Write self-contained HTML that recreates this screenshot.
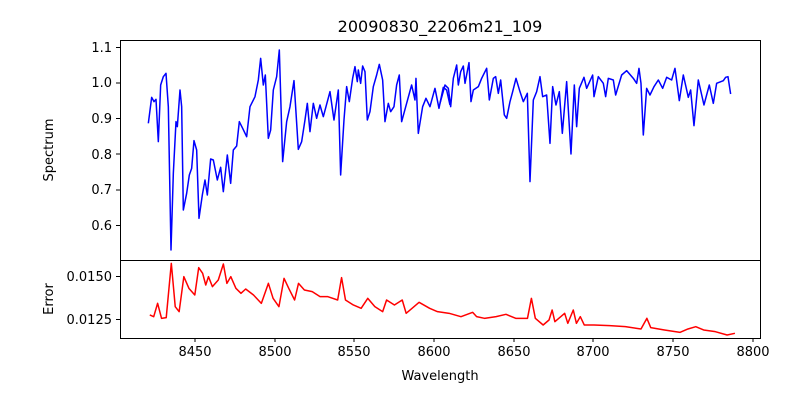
<!DOCTYPE html>
<html><head><style>body{margin:0;background:#fff}svg{display:block}text{font-family:"DejaVu Sans","Liberation Sans",sans-serif;fill:#000}</style></head><body>
<svg width="800" height="400" viewBox="0 0 800 400" xmlns="http://www.w3.org/2000/svg">
<rect width="800" height="400" fill="#fff"/>
<text x="440" y="32" font-size="16" text-anchor="middle">20090830_2206m21_109</text>
<g fill="none" stroke="#0000ff" stroke-width="1.5" stroke-linejoin="round">
<polyline vector-effect="non-scaling-stroke" transform="translate(140,40) scale(0.3333)" points="25,250 35,172 42,185 48,178 55,305 62,135 70,110 78,100 85,200 93,630 100,400 108,245 112,260 120,150 125,200 130,510 140,460 148,405 155,385 162,302 170,330 177,535 187,465 195,420 202,465 212,357 220,360 232,420 242,382 250,455 262,345 272,430 280,330 290,318 298,245 308,265 320,290 330,200 345,170 355,120 362,55 370,135 376,105 385,295 392,270 400,150 410,110 418,30 428,365 440,245 450,200 462,122 475,328 485,305 495,240 502,190 510,275 520,190 530,235 540,195 550,230 570,155 582,240 595,150 602,405 612,240 620,140 628,185 638,115 645,80 652,125 655,90 662,130 668,78 675,95 682,240 690,215 700,140 710,105 718,73 728,120 735,245 745,190 752,215 762,200 770,135 778,105 785,245 800,190 815,135 825,180 828,115 835,280 848,200 858,175 870,200 885,145 897,205 910,142 920,150 930,195"/>
<polyline vector-effect="non-scaling-stroke" transform="translate(440,40) scale(0.3333)" points="0,190 15,135 25,145 32,200 40,115 50,75 55,135 62,95 70,78 75,130 87,68 93,185 100,150 115,140 125,115 140,85 148,180 160,115 167,110 175,160 182,120 193,225 200,235 210,185 218,155 228,115 240,155 250,185 262,160 270,425 280,180 290,155 300,110 308,170 320,165 330,310 338,140 348,195 358,155 367,280 380,125 393,342 403,135 410,260 418,145 432,112 440,145 458,105 462,170 475,110 490,130 497,170 505,115 520,120 527,165 545,105 560,92 580,115 590,130 597,85 603,130 610,285 620,145 630,165 642,140 655,120 668,145 680,112 695,120 705,85 718,182 730,105 745,172 752,150 762,257 775,120 792,195 808,135 820,190 830,130 850,122 857,112 864,110 872,162"/>
</g>
<polyline fill="none" stroke="#ff0000" stroke-width="1.5" stroke-linejoin="round" vector-effect="non-scaling-stroke" transform="translate(140,255) scale(0.3914,0.3333)" points="25,180 35,185 45,145 55,190 67,188 80,25 90,155 100,170 112,65 125,100 140,120 150,38 160,55 168,90 175,65 185,95 200,75 213,27 222,85 232,65 245,100 258,115 270,102 290,120 310,145 328,85 340,130 355,155 368,70 380,100 395,135 405,85 420,105 440,110 460,125 480,125 505,135 515,68 525,135 545,150 565,160 582,130 600,155 620,170 630,135 650,150 670,135 680,175 700,155 713,142 740,160 760,170 790,175 820,185 850,172 860,185 880,190 910,185 935,178 960,190 990,190 1000,130 1010,190 1030,210 1045,195 1053,165 1060,200 1085,175 1093,205 1107,165 1115,205 1125,185 1135,210 1160,210 1200,212 1240,215 1280,222 1295,190 1305,218 1340,225 1380,232 1400,222 1420,215 1440,225 1470,230 1500,240 1520,235"/>
<g fill="none" stroke="#000" stroke-width="1">
<rect x="120.5" y="40.5" width="640" height="220"/>
<rect x="120.5" y="260.5" width="640" height="78"/>
<path d="M195,338v4M275,338v4M354,338v4M434,338v4M514,338v4M593,338v4M673,338v4M753,338v4 M120,47.5h-4M120,83h-4M120,118.5h-4M120,154h-4M120,190h-4M120,225.5h-4 M120,276.5h-4M120,319.5h-4"/>
</g>
<g font-size="13" text-anchor="middle">
<text x="195" y="356">8450</text><text x="275" y="356">8500</text><text x="354" y="356">8550</text><text x="434" y="356">8600</text><text x="514" y="356">8650</text><text x="593" y="356">8700</text><text x="673" y="356">8750</text><text x="753" y="356">8800</text>
</g>
<g font-size="13" text-anchor="end">
<text x="112" y="52">1.1</text><text x="112" y="87">1.0</text><text x="112" y="123">0.9</text><text x="112" y="159">0.8</text><text x="112" y="194">0.7</text><text x="112" y="230">0.6</text>
<text x="112" y="281">0.0150</text><text x="112" y="324">0.0125</text>
</g>
<text x="440" y="380" font-size="13" text-anchor="middle">Wavelength</text>
<text transform="translate(53,150) rotate(-90)" font-size="13" text-anchor="middle">Spectrum</text>
<text transform="translate(53,299) rotate(-90)" font-size="13" text-anchor="middle">Error</text>
</svg>
</body></html>
